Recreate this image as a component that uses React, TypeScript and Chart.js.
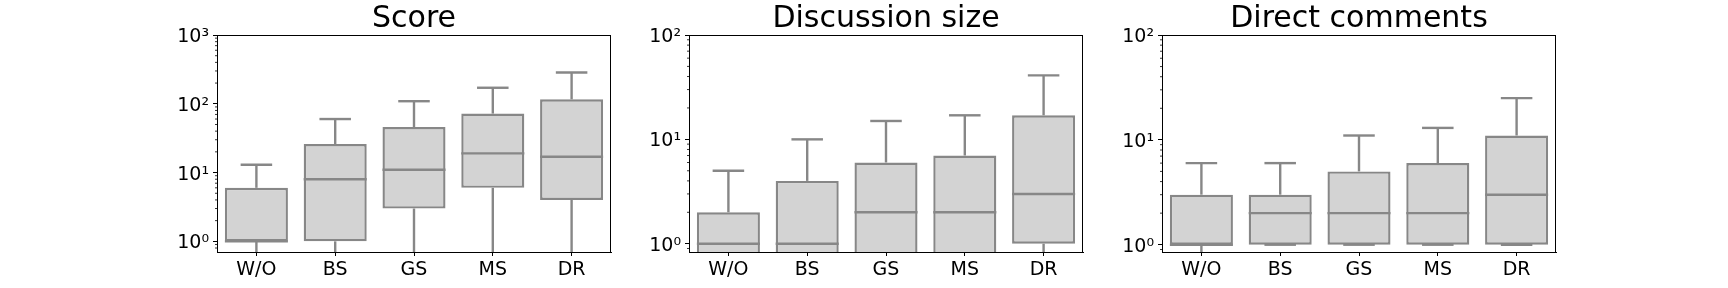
import React, { useEffect, useRef } from "react";
import { Chart, registerables } from "chart.js";

Chart.register(...registerables);

// ---------- data ----------
const categories = ["W/O", "BS", "GS", "MS", "DR"];

const scoreTitle = "Score";
const scoreQ1 = [1, 1, 3, 6, 4];
const scoreMedian = [1, 8, 11, 19, 17];
const scoreQ3 = [6, 26, 46, 72, 116];
const scoreWhiskerLow = [0, 0, 0, 0, 0];
const scoreWhiskerHigh = [13, 60, 109, 171, 285];
const scoreTicks = [1, 10, 100, 1000];
const scoreTickLabels = ["10⁰", "10¹", "10²", "10³"];
const scoreRange = [0.735, 1000];

const sizeTitle = "Discussion size";
const sizeQ1 = [0, 0, 0, 0, 1];
const sizeMedian = [1, 1, 2, 2, 3];
const sizeQ3 = [2, 4, 6, 7, 17];
const sizeWhiskerLow = [0, 0, 0, 0, 0];
const sizeWhiskerHigh = [5, 10, 15, 17, 41];
const sizeTicks = [1, 10, 100];
const sizeTickLabels = ["10⁰", "10¹", "10²"];
const sizeRange = [0.833, 100];

const directTitle = "Direct comments";
const directQ1 = [1, 1, 1, 1, 1];
const directMedian = [1, 2, 2, 2, 3];
const directQ3 = [3, 3, 5, 6, 11];
const directWhiskerLow = [0, 1, 1, 1, 1];
const directWhiskerHigh = [6, 6, 11, 13, 25];
const directTicks = [1, 10, 100];
const directTickLabels = ["10⁰", "10¹", "10²"];
const directRange = [0.852, 100];

const minorMultipliers = [2, 3, 4, 5, 6, 7, 8, 9];

// ---------- style ----------
const FONT = "DejaVu Sans";
const FILL = "#d3d3d3";
const EDGE = "#878787";
const LINE_W = 2.4;
const AXIS_W = 70;
const PLOT_W = 394;
const RIGHT_PAD = 20;

type PanelProps = {
  left: number;
  title: string;
  q1: number[];
  median: number[];
  q3: number[];
  lo: number[];
  hi: number[];
  ticks: number[];
  tickLabels: string[];
  range: number[];
};

function BoxPanel(p: PanelProps) {
  const ref = useRef<HTMLCanvasElement>(null);
  useEffect(() => {
    // zero cannot sit on a log axis: send it below the visible range (clipped)
    const belowAxis = p.range[0] / 10;
    const logSafe = (v: number) => (v > 0 ? v : belowAxis);

    const extras = {
      id: "boxExtras",
      afterDatasetsDraw(chart: any) {
        const { ctx, chartArea } = chart;
        const y = chart.scales.y;
        const meta = chart.getDatasetMeta(0);
        ctx.save();
        ctx.beginPath();
        ctx.rect(chartArea.left, chartArea.top, chartArea.right - chartArea.left, chartArea.bottom - chartArea.top);
        ctx.clip();
        ctx.strokeStyle = EDGE;
        ctx.lineWidth = LINE_W;
        ctx.lineCap = "butt";
        const py = (v: number) => (v > 0 ? y.getPixelForValue(v) : chartArea.bottom + 5);
        meta.data.forEach((bar: any, i: number) => {
          const cx = bar.x;
          const w = bar.width;
          const line = (x1: number, y1: number, x2: number, y2: number) => {
            ctx.beginPath();
            ctx.moveTo(x1, y1);
            ctx.lineTo(x2, y2);
            ctx.stroke();
          };
          // median
          line(cx - w / 2, py(p.median[i]), cx + w / 2, py(p.median[i]));
          // upper whisker and cap
          line(cx, py(p.q3[i]), cx, py(p.hi[i]));
          line(cx - w / 4, py(p.hi[i]), cx + w / 4, py(p.hi[i]));
          // lower whisker and cap
          if (p.lo[i] < p.q1[i]) line(cx, py(p.q1[i]), cx, py(p.lo[i]));
          if (p.lo[i] > 0) line(cx - w / 4, py(p.lo[i]), cx + w / 4, py(p.lo[i]));
        });
        ctx.restore();
      },
      afterDraw(chart: any) {
        const { ctx, chartArea } = chart;
        const y = chart.scales.y;
        ctx.save();
        ctx.strokeStyle = "#000";
        ctx.lineWidth = 1;
        // top and right spines
        ctx.beginPath();
        ctx.moveTo(chartArea.left, Math.round(chartArea.top) + 0.5);
        ctx.lineTo(chartArea.right, Math.round(chartArea.top) + 0.5);
        ctx.moveTo(Math.round(chartArea.right) - 0.5, chartArea.top);
        ctx.lineTo(Math.round(chartArea.right) - 0.5, chartArea.bottom);
        ctx.stroke();
        // minor ticks
        ctx.lineWidth = 0.8;
        for (let e = -1; e <= 3; e++) {
          for (const m of minorMultipliers) {
            const v = m * Math.pow(10, e);
            if (v < p.range[0] || v > p.range[1]) continue;
            const yy = y.getPixelForValue(v);
            ctx.beginPath();
            ctx.moveTo(chartArea.left - 2, yy);
            ctx.lineTo(chartArea.left, yy);
            ctx.stroke();
          }
        }
        ctx.restore();
      },
    };

    const chart = new Chart(ref.current!, {
      type: "bar",
      data: {
        labels: categories,
        datasets: [
          {
            data: p.q1.map((v, i) => [logSafe(v), p.q3[i]]) as any,
            backgroundColor: FILL,
            borderColor: EDGE,
            borderWidth: LINE_W,
            borderSkipped: ((ctx: any) => (p.q1[ctx.dataIndex] <= 0 ? "bottom" : false)) as any,
            barPercentage: 0.8,
            categoryPercentage: 1,
          },
        ],
      },
      options: {
        responsive: false,
        maintainAspectRatio: false,
        animation: false,
        layout: { padding: { left: 0, right: RIGHT_PAD, top: 0, bottom: 0 } },
        plugins: {
          legend: { display: false },
          tooltip: { enabled: false },
          title: {
            display: true,
            text: p.title,
            fullSize: false,
            color: "#000",
            font: { family: FONT, size: 30, weight: "normal", lineHeight: 1.0 },
            padding: { top: 4, bottom: 1 },
          },
        },
        scales: {
          x: {
            type: "category",
            offset: true,
            grid: {
              offset: false,
              drawOnChartArea: false,
              drawTicks: true,
              tickLength: 4,
              tickColor: "#000",
              tickWidth: 1,
            },
            border: { display: true, color: "#000", width: 1 },
            ticks: {
              font: { family: FONT, size: 19 },
              color: "#000",
              padding: 3,
              maxRotation: 0,
              autoSkip: false,
            },
            afterFit: (s: any) => {
              s.height = 36;
            },
          },
          y: {
            type: "logarithmic",
            min: p.range[0],
            max: p.range[1],
            afterBuildTicks: (s: any) => {
              s.ticks = p.ticks.map((v) => ({ value: v }));
            },
            ticks: {
              font: { family: FONT, size: 19 },
              color: "#000",
              padding: 4,
              labelOffset: 2,
              callback: (_v: any, i: number) => p.tickLabels[i],
            },
            grid: {
              drawOnChartArea: false,
              drawTicks: true,
              tickLength: 4,
              tickColor: "#000",
              tickWidth: 1,
            },
            border: { display: true, color: "#000", width: 1 },
            afterFit: (s: any) => {
              s.width = AXIS_W;
            },
          },
        },
      } as any,
      plugins: [extras],
    });
    return () => chart.destroy();
  }, []);

  return (
    <canvas
      ref={ref}
      width={AXIS_W + PLOT_W + RIGHT_PAD}
      height={288}
      style={{
        position: "absolute",
        left: p.left - AXIS_W,
        top: 0,
        width: AXIS_W + PLOT_W + RIGHT_PAD,
        height: 288,
      }}
    />
  );
}

export default function App() {
  return (
    <div
      style={{
        position: "fixed",
        left: 0,
        top: 0,
        width: 1728,
        height: 288,
        background: "#fff",
        overflow: "hidden",
      }}
    >
      <BoxPanel
        left={217}
        title={scoreTitle}
        q1={scoreQ1}
        median={scoreMedian}
        q3={scoreQ3}
        lo={scoreWhiskerLow}
        hi={scoreWhiskerHigh}
        ticks={scoreTicks}
        tickLabels={scoreTickLabels}
        range={scoreRange}
      />
      <BoxPanel
        left={689}
        title={sizeTitle}
        q1={sizeQ1}
        median={sizeMedian}
        q3={sizeQ3}
        lo={sizeWhiskerLow}
        hi={sizeWhiskerHigh}
        ticks={sizeTicks}
        tickLabels={sizeTickLabels}
        range={sizeRange}
      />
      <BoxPanel
        left={1162}
        title={directTitle}
        q1={directQ1}
        median={directMedian}
        q3={directQ3}
        lo={directWhiskerLow}
        hi={directWhiskerHigh}
        ticks={directTicks}
        tickLabels={directTickLabels}
        range={directRange}
      />
    </div>
  );
}
